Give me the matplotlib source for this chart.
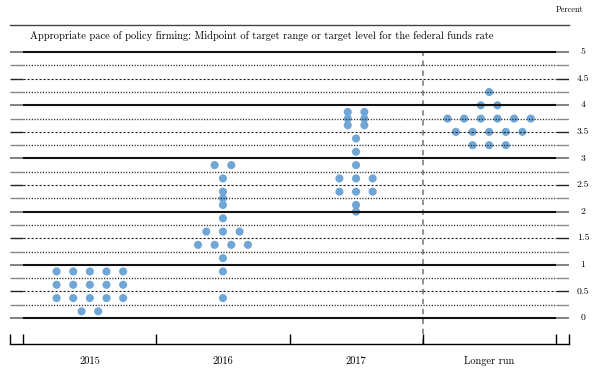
import numpy as np
import matplotlib
matplotlib.use("Agg")
import matplotlib.pyplot as plt
from collections import Counter

# ============================================================
# Data: each participant's midpoint, per period
# ============================================================

periods = ["2015", "2016", "2017", "Longer run"]

dots_2015 = [0.875] * 5 + [0.625] * 5 + [0.375] * 5 + [0.125] * 2
dots_2016 = ([2.875] * 2 + [2.625, 2.375, 2.25, 2.125, 1.875] + [1.625] * 3
             + [1.375] * 4 + [1.125, 0.875, 0.375])
dots_2017 = ([3.875] * 2 + [3.75] * 2 + [3.625] * 2 + [3.375, 3.125, 2.875]
             + [2.625] * 3 + [2.375] * 3 + [2.125, 2.0])
dots_longer = [4.25] + [4.0] * 2 + [3.75] * 6 + [3.5] * 5 + [3.25] * 3

all_dots = [dots_2015, dots_2016, dots_2017, dots_longer]

y_ticks = np.arange(0, 5.01, 0.5)
y_ticklabels = ["0", "0.5", "1", "1.5", "2", "2.5", "3", "3.5", "4", "4.5", "5"]

title = ("Appropriate pace of policy firming: Midpoint of target range "
         "or target level for the federal funds rate")

# ============================================================
# Plot
# ============================================================

plt.rcParams["font.family"] = "serif"
plt.rcParams["font.serif"] = ["cmr10", "DejaVu Serif"]

W, H = 597, 371
fig = plt.figure(figsize=(W / 100, H / 100), dpi=100)
ax = fig.add_axes([10 / W, 27 / H, 559 / W, 319 / H])
ax.set_xlim(-0.1, 4.1)
ax.set_ylim(-0.489, 5.51)

dot_color = "#6fa6d6"
step = 0.125

# horizontal guide lines every 0.25
for lev in np.arange(0, 5.01, 0.25):
    if lev % 1 == 0:
        ax.hlines(lev, 0, 4, color="#111111", lw=1.5, zorder=3)
        stub = "#777777"
    elif lev % 0.5 == 0:
        ax.hlines(lev, 0, 4, color="#222222", lw=0.8,
                  linestyles=(0, (2, 1.6)), zorder=3)
        stub = "#222222"
    else:
        ax.hlines(lev, 0, 4, color="#222222", lw=1.0,
                  linestyles=(0, (0.8, 1.2)), zorder=3)
        stub = "#888888"
    ax.hlines(lev, -0.1, 0, color=stub, lw=1.3 if lev % 1 == 0 else 1.0, zorder=3)
    ax.hlines(lev, 4, 4.1, color=stub, lw=1.3 if lev % 1 == 0 else 1.0, zorder=3)

# separator before longer run
ax.vlines(3, -0.489, 5, color="#8a8a8a", lw=1.3, linestyles=(0, (3, 2.5)), zorder=1)

# dots
for i, vals in enumerate(all_dots):
    counts = Counter(vals)
    xs, ys = [], []
    for v, n in counts.items():
        for k in range(n):
            xs.append(i + 0.5 + (k - (n - 1) / 2) * step)
            ys.append(v)
    ax.scatter(xs, ys, s=34, color=dot_color, edgecolors="none", zorder=2)

# axes decoration
for side in ["left", "right"]:
    ax.spines[side].set_visible(False)
ax.spines["bottom"].set_linewidth(1.0)
ax.spines["top"].set_linewidth(1.0)
ax.spines["top"].set_color("#444444")

ax.set_xticks([-0.1, 0, 1, 2, 3, 4, 4.1])
ax.set_xticklabels([])
ax.set_xticks(np.arange(4) + 0.5, minor=True)
ax.set_xticklabels(periods, minor=True, fontsize=7.5)
ax.tick_params(axis="x", which="major", direction="in", length=7, width=1.0)
ax.tick_params(axis="x", which="minor", length=0, pad=9)

ax.set_yticks([])
for v, lab in zip(y_ticks, y_ticklabels):
    ax.text(4.205, v, lab, ha="center", va="center", fontsize=7,
            transform=ax.transData, clip_on=False)

ax.text(0.05, 5.30, title, ha="left", va="center", fontsize=7.55)
fig.text(583 / W, 1 - 10 / H, "Percent", ha="right", va="center", fontsize=6)

fig.savefig("out.png", dpi=100)
